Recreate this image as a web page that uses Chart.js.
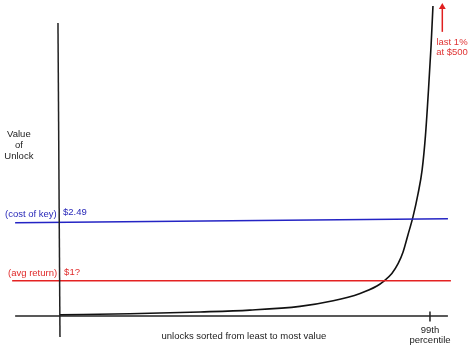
<!DOCTYPE html>
<html>
<head>
<meta charset="utf-8">
<script src="https://cdn.jsdelivr.net/npm/chart.js@4"></script>
<style>
  html, body { margin: 0; padding: 0; background: #fff; }
  #wrap { width: 474px; height: 355px; }
</style>
</head>
<body>
<div id="wrap"><canvas id="chart"></canvas></div>
<script>
// percentile of unlocks (sorted) vs value of the unlock (sketch units, ~$)
const percentile = [0, 18.7, 37.5, 50.8, 64.2, 73.1, 80.3, 84.8, 86.5, 88.8, 90.5, 91.8, 93.1, 94.5, 95.8, 96.9, 97.8, 98.6, 99.3, 99.8];
const unlockValue = [0.03, 0.06, 0.11, 0.16, 0.26, 0.41, 0.61, 0.81, 0.93, 1.15, 1.42, 1.73, 2.19, 2.70, 3.30, 3.95, 4.89, 6.11, 7.32, 8.38];

// reference lines (drawn slightly by hand, so the ends differ a bit)
const keyCostX = [-12.0, 103.8];
const keyCost = [2.52, 2.63];
const avgReturnX = [-12.8, 104.6];
const avgReturn = [0.95, 0.95];

// axes of the sketch
const xAxisX = [-12.0, 103.8];
const yAxisX = [-0.54, 0];
const yAxisY = [7.92, -0.57];
const tickX = 99;
const tickY = [0.12, -0.15];

// arrow "last 1% at $500"
const arrowX = 102.3;
const arrowY = [7.68, 8.35];

const xMin = -16.05, xMax = 110.78;
const yMin = -1.054, yMax = 8.541;

const pts = (xs, ys) => xs.map((x, i) => ({ x: x, y: ys[i] }));

const labels = [
  { text: 'Value', x: -11.0, y: 4.9, color: '#222', align: 'center' },
  { text: 'of', x: -11.0, y: 4.62, color: '#222', align: 'center' },
  { text: 'Unlock', x: -11.0, y: 4.32, color: '#222', align: 'center' },
  { text: '(cost of key)', x: -14.7, y: 2.75, color: '#2727b8', align: 'left' },
  { text: '$2.49', x: 0.8, y: 2.8, color: '#2727b8', align: 'left' },
  { text: '(avg return)', x: -13.9, y: 1.14, color: '#e02a2a', align: 'left' },
  { text: '$1?', x: 1.1, y: 1.19, color: '#e02a2a', align: 'left' },
  { text: 'unlocks sorted from least to most value', x: 49.2, y: -0.54, color: '#222', align: 'center' },
  { text: '99th', x: 99.0, y: -0.38, color: '#222', align: 'center' },
  { text: 'percentile', x: 99.0, y: -0.66, color: '#222', align: 'center' },
  { text: 'last 1%', x: 104.9, y: 7.4, color: '#e03535', align: 'center' },
  { text: 'at $500', x: 104.9, y: 7.12, color: '#e03535', align: 'center' }
];

const textPlugin = {
  id: 'sketchText',
  afterDraw(chart) {
    const ctx = chart.ctx;
    const xs = chart.scales.x, ys = chart.scales.y;
    ctx.save();
    ctx.font = '9.5px "Liberation Sans", Arial, sans-serif';
    ctx.textBaseline = 'middle';
    labels.forEach(l => {
      ctx.fillStyle = l.color;
      ctx.textAlign = l.align;
      ctx.fillText(l.text, xs.getPixelForValue(l.x), ys.getPixelForValue(l.y));
    });
    ctx.restore();
  }
};

const lineDs = (data, color, width, extra) => Object.assign({
  data: data,
  borderColor: color,
  borderWidth: width,
  pointRadius: 0,
  fill: false,
  tension: 0
}, extra || {});

new Chart(document.getElementById('chart'), {
  type: 'line',
  data: {
    datasets: [
      lineDs(pts(xAxisX, [0, 0]), '#222', 1.5),
      lineDs(pts(yAxisX, yAxisY), '#222', 1.5),
      lineDs(pts([tickX, tickX], tickY), '#222', 1.5),
      lineDs(pts(keyCostX, keyCost), '#2424c4', 1.5),
      lineDs(pts(avgReturnX, avgReturn), '#e42222', 1.5),
      lineDs(pts(percentile, unlockValue), '#111', 1.6, { cubicInterpolationMode: 'monotone' }),
      lineDs(pts([arrowX, arrowX], arrowY), '#e02020', 1.5, {
        pointRadius: [0, 4],
        pointStyle: 'triangle',
        pointBackgroundColor: '#e02020',
        pointBorderColor: '#e02020',
        pointBorderWidth: 0
      })
    ]
  },
  options: {
    responsive: true,
    maintainAspectRatio: false,
    animation: false,
    layout: { padding: 0, autoPadding: false },
    plugins: { legend: { display: false }, tooltip: { enabled: false } },
    scales: {
      x: { type: 'linear', min: xMin, max: xMax, display: false },
      y: { type: 'linear', min: yMin, max: yMax, display: false }
    }
  },
  plugins: [textPlugin]
});
</script>
</body>
</html>
